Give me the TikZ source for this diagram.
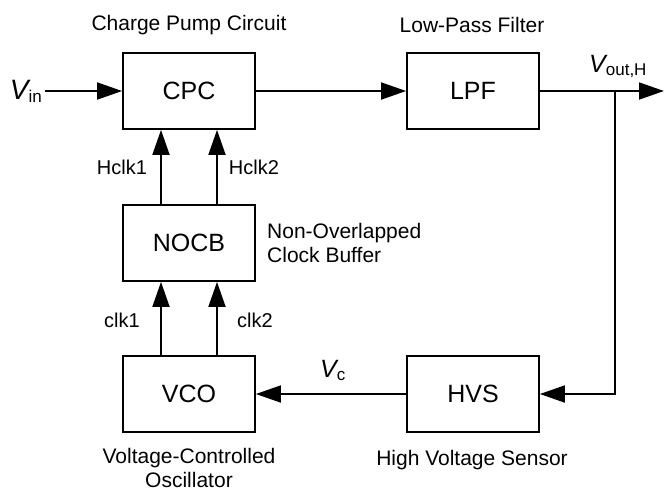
\documentclass[tikz,border=0pt]{standalone}
\usepackage{fontspec}
\setmainfont{Liberation Sans}
\usetikzlibrary{arrows.meta}
\newcommand\vsub[3]{{\fontsize{#3}{#3}\selectfont\itshape #1}\raisebox{-0.3em}{\fontsize{17}{17}\selectfont #2}}
\begin{document}
\begin{tikzpicture}[x=1pt,y=-1pt,
  blk/.style={draw,line width=1.8pt,minimum width=132pt,minimum height=76pt,inner sep=0pt,font=\fontsize{25}{25}\selectfont},
  captext/.style={font=\fontsize{21}{24}\selectfont,align=center,inner sep=0pt},
  sig/.style={font=\fontsize{20}{20}\selectfont,inner sep=0pt},
  conn/.style={line width=1.8pt,-{Triangle[length=25pt,width=17pt]}}]
\useasboundingbox (0,0) rectangle (664,491);
\node[blk] (cpc) at (189,91) {CPC};
\node[blk] (lpf) at (473,91) {LPF};
\node[blk] (nocb) at (189,243) {NOCB};
\node[blk] (vco) at (189,394) {VCO};
\node[blk] (hvs) at (473,394) {HVS};
\node[captext] (tcpc) at (189,25) {Charge Pump Circuit};
\node[captext] (tlpf) at (472,25) {Low-Pass Filter};
\node[captext,align=left,anchor=west] (tnocb) at (267,243) {Non-Overlapped\\Clock Buffer};
\node[captext] (tvco) at (189,468) {Voltage-Controlled\\Oscillator};
\node[captext] (thvs) at (472,460) {High Voltage Sensor};
\node[inner sep=0pt,anchor=east] (vin) at (42,91) {\vsub{V}{in}{28}};
\node[inner sep=0pt,anchor=west] (vout) at (589,66) {\vsub{V}{out,H}{25}};
\node[inner sep=0pt,anchor=west] (vc) at (320,370) {\vsub{V}{c}{25}};
\coordinate (vinl) at (45,91);
\coordinate (outend) at (664,91);
\coordinate (junc) at (615,91);
\coordinate (corner) at (615,394);
\draw[conn] (vinl) -- (cpc.west);
\draw[conn] (cpc.east) -- (lpf.west);
\draw[conn] (lpf.east) -- (outend);
\draw[conn] (junc) -- (corner) -- (hvs.east);
\draw[conn] (hvs.west) -- (vco.east);
\draw[conn] ([xshift=-28pt]nocb.north) -- ([xshift=-28pt]cpc.south);
\draw[conn] ([xshift=28pt]nocb.north) -- ([xshift=28pt]cpc.south);
\draw[conn] ([xshift=-28pt]vco.north) -- ([xshift=-28pt]nocb.south);
\draw[conn] ([xshift=28pt]vco.north) -- ([xshift=28pt]nocb.south);
\node[sig] (hclk1) at (122,167) {Hclk1};
\node[sig] (hclk2) at (254,167) {Hclk2};
\node[sig] (clk1) at (122,320) {clk1};
\node[sig] (clk2) at (255,320) {clk2};
\end{tikzpicture}
\end{document}
